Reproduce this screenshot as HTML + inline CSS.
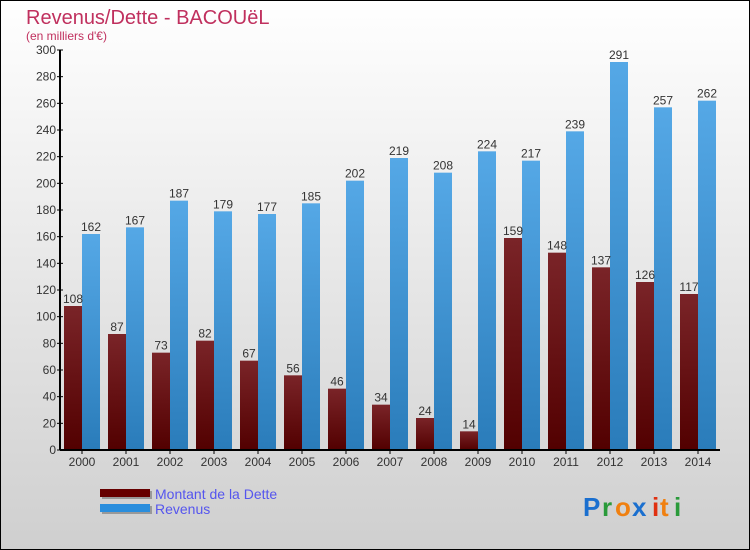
<!DOCTYPE html>
<html><head><meta charset="utf-8"><style>
body{margin:0;}
#c{width:750px;height:550px;position:relative;overflow:hidden;font-family:"Liberation Sans",sans-serif;}
</style></head><body>
<div id="c">
<svg id="s" width="750" height="550" xmlns="http://www.w3.org/2000/svg">
<defs>
<linearGradient id="bg" x1="0" y1="0" x2="0" y2="1"><stop offset="0" stop-color="#ffffff"/><stop offset="1" stop-color="#cfcfcf"/></linearGradient>
<linearGradient id="gd" x1="0" y1="0" x2="0" y2="1"><stop offset="0" stop-color="#7a2428"/><stop offset="1" stop-color="#520000"/></linearGradient>
<linearGradient id="gr" x1="0" y1="0" x2="0" y2="1"><stop offset="0" stop-color="#55a8e6"/><stop offset="1" stop-color="#2a7cba"/></linearGradient>
</defs>
<rect x="0.5" y="0.5" width="749" height="549" fill="url(#bg)" stroke="#000"/>
<text x="26" y="24" font-size="20" fill="#c0305e">Revenus/Dette - BACOUëL</text>
<text x="26" y="40" font-size="12" fill="#c0305e">(en milliers d'€)</text>
<g id="plot"></g>
<g>
<rect x="102" y="491" width="50" height="8" fill="#999"/><rect x="100" y="489" width="50" height="8" fill="#660000"/>
<text x="155" y="499" font-size="14" fill="#5555ee">Montant de la Dette</text>
<rect x="102" y="506" width="50" height="8" fill="#999"/><rect x="100" y="504" width="50" height="8" fill="#2a8edd"/>
<text x="155" y="514" font-size="14" fill="#5555ee">Revenus</text>
</g>
<g font-size="26" font-weight="bold">
<text x="583" y="516" fill="#1a6fcf">P</text><text x="602" y="516" fill="#2a9a3a">r</text><text x="615" y="516" fill="#f08010">o</text><text x="632" y="516" fill="#1a6fcf">x</text><text x="652" y="516" fill="#e03010">i</text><text x="660" y="516" fill="#f08010">t</text><text x="674" y="516" fill="#2a9a3a">i</text>
</g>
</svg>
</div>
<script>
const years=["2000","2001","2002","2003","2004","2005","2006","2007","2008","2009","2010","2011","2012","2013","2014"];
const dette=[108,87,73,82,67,56,46,34,24,14,159,148,137,126,117];
const revenus=[162,167,187,179,177,185,202,219,208,224,217,239,291,257,262];
const yTicks=[0,20,40,60,80,100,120,140,160,180,200,220,240,260,280,300];
const NS="http://www.w3.org/2000/svg";
const g=document.getElementById('plot');
const x0=60,x1=720,yb=450,yt=50,ymax=300;
const y=v=>yb-(v/ymax)*(yb-yt);
const bw=(x1-x0)/years.length;
function el(t,a,p){const e=document.createElementNS(NS,t);for(const k in a)e.setAttribute(k,a[k]);(p||g).appendChild(e);return e;}
years.forEach((yr,i)=>{
 const c=x0+bw*(i+0.5);
 const d=el('rect',{x:c-18,y:y(dette[i]),width:18,height:yb-y(dette[i]),fill:'url(#gd)'});
 
 
 const r=el('rect',{x:c,y:y(revenus[i]),width:18,height:yb-y(revenus[i]),fill:'url(#gr)'});
 
 
 const t1=el('text',{x:c-9,y:y(dette[i])-3,'font-size':12,fill:'#333','text-anchor':'middle'});t1.textContent=dette[i];
 
 
 const t2=el('text',{x:c+9,y:y(revenus[i])-3,'font-size':12,fill:'#333','text-anchor':'middle'});t2.textContent=revenus[i];
 
 
 const xl=el('text',{x:c,y:466,'font-size':12,fill:'#333','text-anchor':'middle'});xl.textContent=yr;
 
 
 el('line',{x1:c,x2:c,y1:yb,y2:yb+4,stroke:'#000'});
});
yTicks.forEach(v=>{
 el('line',{x1:x0-3,x2:x0+3,y1:y(v),y2:y(v),stroke:'#000'});
 const t=el('text',{x:x0-4,y:y(v)+4,'font-size':12,fill:'#333','text-anchor':'end'});t.textContent=v;
 
 
});
const ya=el('line',{x1:x0,x2:x0,y1:yt,y2:yb,stroke:'#000','stroke-width':2});


const xa=el('line',{x1:x0,x2:x1,y1:yb,y2:yb,stroke:'#000','stroke-width':2});


</script>
</body></html>
